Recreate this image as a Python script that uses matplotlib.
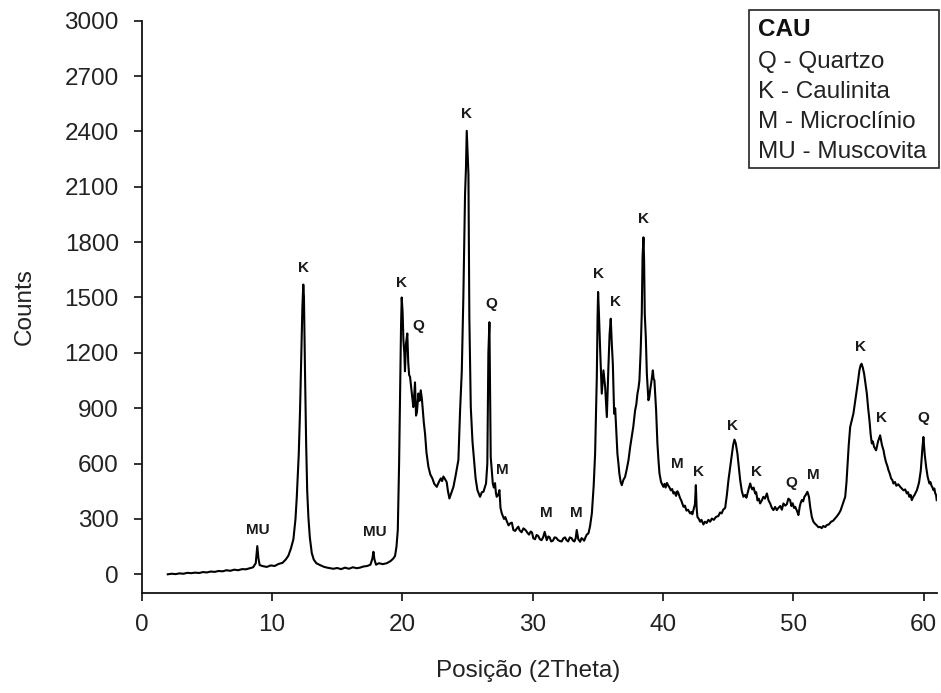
import matplotlib
matplotlib.use("Agg")
import matplotlib.pyplot as plt
from matplotlib.patches import Rectangle

plt.rcParams['font.family'] = ['Liberation Sans', 'DejaVu Sans']

# ---- data (2theta, counts), in segments ----
theta_a = [2.0, 2.3, 2.6, 2.9, 3.2, 3.5, 3.8, 4.1, 4.4, 4.7,
           5.0, 5.3, 5.6, 5.9, 6.2, 6.5, 6.8, 7.1, 7.4, 7.7,
           8.0, 8.3, 8.55, 8.75, 8.87, 8.95, 9.05, 9.3, 9.6, 9.9,
           10.2, 10.5, 10.8, 11.05, 11.25, 11.45, 11.64, 11.8, 11.9, 12.05,
           12.15, 12.25, 12.33, 12.4, 12.45, 12.53, 12.62, 12.7, 12.79, 12.9,
           13.05, 13.2, 13.4, 13.68, 14.0, 14.3, 14.7, 15.0, 15.3, 15.6,
           15.9, 16.2, 16.5, 16.75, 17.0, 17.3, 17.55, 17.7, 17.78, 17.86,
           17.98, 18.2, 18.5, 18.8, 19.1, 19.3, 19.44, 19.55, 19.65]
counts_a = [0, 3, 1, 5, 3, 8, 6, 9, 7, 12,
            10, 15, 13, 18, 16, 22, 19, 25, 22, 28,
            27, 33, 38, 60, 153, 90, 50, 44, 40, 48,
            45, 56, 62, 80, 100, 140, 190, 300, 420, 650,
            890, 1200, 1450, 1570, 1500, 1100, 700, 450, 310, 200,
            115, 80, 60, 50, 40, 35, 30, 34, 28, 36,
            30, 38, 33, 36, 42, 45, 52, 85, 122, 80,
            52, 60, 55, 60, 72, 85, 100, 150, 240]

theta_b = [19.75, 19.82, 19.9, 19.95, 20.02, 20.08, 20.15, 20.2, 20.28, 20.38,
           20.45, 20.52, 20.59, 20.7, 20.84, 20.9, 20.97, 21.05, 21.12,
           21.23, 21.32, 21.41, 21.5, 21.57, 21.65, 21.74, 21.85, 22.0, 22.15,
           22.3, 22.45, 22.64, 22.8, 22.95, 23.05, 23.15, 23.28, 23.4, 23.5,
           23.61, 23.75, 23.92, 24.1, 24.3, 24.43, 24.56, 24.68, 24.81, 24.88,
           24.94, 25.0, 25.07, 25.14, 25.25, 25.38, 25.5, 25.62, 25.76, 25.96,
           26.1, 26.22, 26.32, 26.42, 26.52, 26.6, 26.68, 26.73, 26.78, 26.86,
           26.94, 27.02, 27.11, 27.18, 27.24, 27.35, 27.45, 27.53]
counts_b = [600, 940, 1350, 1500, 1420, 1270, 1200, 1100, 1250, 1305,
            1150, 1080, 1070, 1000, 906, 960, 1040, 860, 880,
            980, 940, 997, 950, 890, 820, 763, 660, 582, 540,
            520, 490, 474, 500, 520, 505, 530, 515, 500, 450,
            411, 440, 474, 540, 620, 889, 1100, 1501, 2060, 2200,
            2403, 2300, 2169, 1393, 906, 720, 618, 520, 456, 420,
            445, 447, 470, 492, 600, 1200, 1366, 1000, 636, 560,
            492, 470, 494, 440, 420, 430, 456, 360]

theta_c = [27.63, 27.8, 27.9, 28.0, 28.15, 28.27, 28.4, 28.52, 28.65, 28.8,
           28.9, 29.0, 29.15, 29.29, 29.45, 29.6, 29.72, 29.85, 29.95, 30.05,
           30.18, 30.3, 30.42, 30.55, 30.68, 30.8, 30.92, 31.08, 31.2, 31.3,
           31.42, 31.55, 31.68, 31.8, 31.95, 32.1, 32.22, 32.36, 32.48, 32.6,
           32.72, 32.85, 32.98, 33.1, 33.2, 33.3, 33.38, 33.5, 33.64, 33.75,
           33.85, 33.95, 34.05, 34.15, 34.28, 34.4]
counts_c = [330, 300, 310, 290, 265, 276, 280, 240, 235, 250,
            258, 238, 228, 249, 240, 225, 215, 232, 226, 195,
            190, 213, 208, 190, 185, 200, 230, 185, 205, 200,
            178, 182, 200, 198, 185, 180, 178, 195, 200, 185,
            178, 200, 196, 182, 178, 195, 240, 190, 176, 196,
            190, 182, 200, 215, 222, 260]

theta_d = [34.54, 34.68, 34.79, 34.92, 34.98, 35.02, 35.08, 35.17, 35.3,
           35.43, 35.56, 35.69, 35.81, 35.9, 35.99, 36.07, 36.15, 36.25, 36.33,
           36.4, 36.5, 36.58, 36.65, 36.75, 36.84, 36.95, 37.09, 37.22, 37.35,
           37.48, 37.6, 37.72, 37.86, 37.95, 38.04, 38.12, 38.19, 38.28, 38.37,
           38.43, 38.5, 38.55, 38.6, 38.68, 38.76, 38.88, 38.95, 39.01, 39.12,
           39.22, 39.28, 39.34, 39.41, 39.47, 39.57, 39.65, 39.73, 39.85]
counts_d = [330, 480, 654, 1069, 1400, 1530, 1420, 1231, 979,
            1105, 1015, 852, 1123, 1300, 1385, 1250, 1141, 871, 900,
            798, 654, 600, 546, 500, 483, 510, 528, 570, 618,
            690, 744, 800, 889, 920, 979, 1010, 1051, 1200, 1412,
            1718, 1826, 1700, 1412, 1285, 1087, 943, 960, 997, 1050,
            1105, 1060, 1051, 960, 889, 709, 620, 546, 500]

theta_e = [40.03, 40.12, 40.2, 40.3, 40.41, 40.5, 40.6, 40.7, 40.8, 40.9,
           41.0, 41.1, 41.18, 41.3, 41.4, 41.5, 41.57, 41.68, 41.8, 41.92,
           42.08, 42.18, 42.25, 42.33, 42.45, 42.52, 42.58, 42.64, 42.75, 42.85,
           42.95, 43.1, 43.22, 43.35, 43.48, 43.62, 43.75, 43.9, 44.05, 44.25,
           44.38, 44.5, 44.62, 44.77, 44.9, 45.02, 45.15, 45.28, 45.38, 45.48,
           45.58, 45.71, 45.82, 45.92, 46.05, 46.17, 46.3, 46.4, 46.48, 46.6,
           46.69, 46.78, 46.85, 46.95, 47.07, 47.15, 47.25, 47.35, 47.45, 47.58,
           47.7, 47.82, 47.97, 48.1, 48.22, 48.35, 48.47, 48.6, 48.73, 48.86,
           49.0, 49.12, 49.24, 49.38, 49.5, 49.62, 49.75, 49.85, 49.95, 50.05,
           50.14, 50.3, 50.39, 50.5, 50.58, 50.65, 50.75, 50.85, 50.95, 51.08,
           51.2, 51.29, 51.42, 51.54, 51.65, 51.8, 51.92, 52.06, 52.18, 52.3,
           52.45, 52.57, 52.72, 52.9, 53.05, 53.21, 53.35, 53.5, 53.62, 53.72,
           53.88, 53.98]
counts_e = [474, 490, 470, 495, 480, 470, 455, 462, 438, 445,
            425, 450, 440, 415, 400, 380, 366, 372, 345, 350,
            330, 338, 325, 348, 380, 483, 360, 311, 300, 285,
            295, 270, 285, 278, 295, 285, 302, 295, 310, 316,
            335, 330, 350, 360, 430, 510, 580, 654, 700, 730,
            710, 654, 580, 510, 450, 420, 430, 415, 438, 470,
            492, 470, 460, 470, 438, 445, 400, 410, 384, 400,
            420, 410, 438, 400, 384, 360, 348, 365, 348, 360,
            370, 350, 384, 372, 380, 410, 402, 370, 385, 360,
            366, 340, 321, 370, 390, 402, 395, 420, 430, 447,
            420, 366, 310, 285, 275, 265, 255, 257, 250, 262,
            256, 267, 270, 285, 290, 303, 315, 330, 345, 366,
            400, 420]

theta_f = [54.08, 54.15, 54.25, 54.36, 54.5, 54.61, 54.75, 54.87, 54.97, 55.07,
           55.15, 55.23, 55.33, 55.43, 55.54, 55.64, 55.74, 55.84, 55.93, 56.02,
           56.1, 56.2, 56.35, 56.5, 56.66, 56.8, 56.92, 57.0, 57.1, 57.2,
           57.3, 57.4, 57.5, 57.6, 57.68, 57.8, 57.9, 58.05, 58.2, 58.32,
           58.45, 58.58, 58.71, 58.8, 58.9, 59.0, 59.09, 59.2, 59.3, 59.4,
           59.48, 59.58, 59.65, 59.78, 59.9, 59.98, 60.08, 60.19, 60.3, 60.37,
           60.44, 60.52, 60.6, 60.68, 60.75, 60.82, 60.88, 60.95, 61.0]
counts_f = [500, 582, 700, 798, 840, 871, 940, 997, 1050, 1105,
            1130, 1141, 1120, 1087, 1030, 979, 900, 835, 760, 709,
            720, 690, 672, 720, 753, 700, 672, 640, 610, 590,
            564, 545, 520, 510, 492, 500, 480, 488, 474, 465,
            455, 460, 438, 445, 420, 430, 402, 420, 430, 445,
            456, 480, 500, 564, 680, 744, 650, 582, 530, 510,
            492, 500, 480, 470, 456, 465, 440, 430, 402]

peak_labels = ["MU", "K", "MU", "K", "Q", "K", "Q", "M", "M", "M", "K", "K", "K",
               "M", "K", "K", "K", "Q", "M", "K", "K", "Q"]
peak_x = [8.93, 12.38, 17.85, 19.9, 21.2, 24.94, 26.86, 27.7, 31.08, 33.38, 35.04, 36.32, 38.5,
          41.06, 42.72, 45.33, 47.15, 49.88, 51.54, 55.13, 56.79, 59.98]
peak_y = [240, 1658, 229, 1577, 1345, 2494, 1466, 564, 330, 330, 1628, 1474, 1925,
          600, 555, 802, 555, 495, 537, 1231, 849, 849]

x_ticks = [0, 10, 20, 30, 40, 50, 60]
y_ticks = [0, 300, 600, 900, 1200, 1500, 1800, 2100, 2400, 2700, 3000]

legend_title = "CAU"
legend_lines = ["Q - Quartzo", "K - Caulinita", "M - Microclínio", "MU - Muscovita"]

two_theta = theta_a + theta_b + theta_c + theta_d + theta_e + theta_f
counts = counts_a + counts_b + counts_c + counts_d + counts_e + counts_f
n = min(len(two_theta), len(counts))

# ---- figure ----
W, H = 941, 693
fig = plt.figure(figsize=(W / 100, H / 100), dpi=100)
ax_l, ax_r, ax_t, ax_b = 141.7, 936.7, 20.7, 593.3
ax = fig.add_axes([ax_l / W, 1 - ax_b / H, (ax_r - ax_l) / W, (ax_b - ax_t) / H])

ax.plot(two_theta[:n], counts[:n], color='black', lw=1.5)

ax.set_xlim(0, 61)
ax.set_ylim(-103, 3000)
ax.set_xticks(x_ticks)
ax.set_yticks(y_ticks)
for s in ['top', 'right']:
    ax.spines[s].set_visible(False)
for s in ['left', 'bottom']:
    ax.spines[s].set_linewidth(1.3)
    ax.spines[s].set_color('#111111')
ax.tick_params(axis='both', direction='out', length=6, width=1.2, color='#111111',
               labelsize=17.5, labelcolor='#222222')
ax.tick_params(axis='y', pad=10.5)
ax.tick_params(axis='x', pad=9)

for t, xx, yy in zip(peak_labels, peak_x, peak_y):
    ax.text(xx, yy, t, ha='center', va='center', fontsize=11, fontweight='bold', color='#1a1a1a')

fig.text(528 / W, 1 - 677 / H, "Posição (2Theta)", ha='center', va='baseline',
         fontsize=17.5, color='#222222')
fig.text(25 / W, 1 - 307 / H, "Counts", ha='center', va='center', rotation=90,
         fontsize=17.5, color='#222222')

# legend box
bx0, bx1, by0, by1 = 748.7, 939.3, 10, 167.7
fig.patches.append(Rectangle((bx0 / W, 1 - by1 / H), (bx1 - bx0) / W, (by1 - by0) / H,
                             transform=fig.transFigure, fill=False, edgecolor='#222222', lw=1.2))
fig.text(758 / W, 1 - 36 / H, legend_title, ha='left', va='baseline', fontsize=17.5,
         fontweight='bold', color='#111111')
for i, line in enumerate(legend_lines):
    fig.text(758 / W, 1 - (68.3 + 30 * i) / H, line, ha='left', va='baseline', fontsize=17.5,
             color='#222222')

fig.savefig("out.png", dpi=100)
